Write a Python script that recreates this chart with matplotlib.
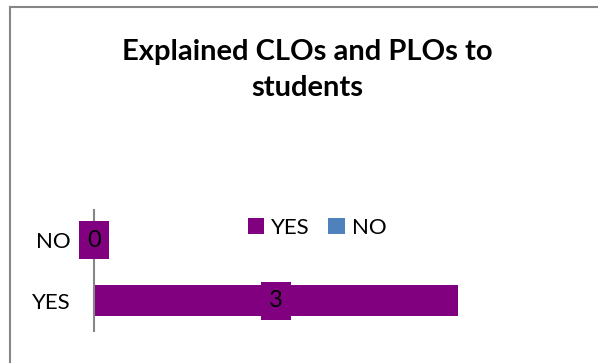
import matplotlib.pyplot as plt
from matplotlib.patches import Patch
from matplotlib.lines import Line2D

# data
categories = ["YES", "NO"]
values = [3, 0]
legend_labels = ["YES", "NO"]
title = "Explained CLOs and PLOs to\nstudents"

PURPLE = "#800080"
BLUE = "#4F81BD"
GRAY = "#868686"

plt.rcParams["font.family"] = ["Lato", "DejaVu Sans"]

W, H = 598, 363
fig = plt.figure(figsize=(W / 100, H / 100), dpi=100)

# plot area in pixels (left, top, right, bottom)
x0, y0, x1, y1 = 94, 210, 458, 331
ax = fig.add_axes([x0 / W, 1 - y1 / H, (x1 - x0) / W, (y1 - y0) / H])

pos = list(range(len(categories)))
ax.barh(pos, values, height=0.51, color=PURPLE)
ax.set_xlim(0, 3)
ax.set_ylim(-0.5, 1.5)
ax.set_yticks(pos)
ax.set_yticklabels(categories, fontsize=16)
ax.tick_params(axis="y", length=0, pad=17)
ax.set_xticks([])
for s in ["top", "right", "bottom"]:
    ax.spines[s].set_visible(False)
ax.spines["left"].set_color(GRAY)
ax.spines["left"].set_linewidth(1.5)

# data labels centred on bars
for p, v in zip(pos, values):
    ax.text(v / 2, p, str(v), ha="center", va="center", fontsize=17,
            bbox=dict(boxstyle="square,pad=0.35", facecolor=PURPLE, edgecolor="none"))

# legend
handles = [Patch(facecolor=PURPLE), Patch(facecolor=BLUE)]
fig.legend(handles, legend_labels, loc="center", bbox_to_anchor=(317 / W, 1 - 228 / H),
           ncol=2, frameon=False, fontsize=16, handlelength=0.75, handleheight=0.75,
           handletextpad=0.3, columnspacing=0.85)

# title
fig.text(307 / W, 1 - 70 / H, title, ha="center", va="center", fontsize=21,
         fontweight="bold", linespacing=1.45)

# chart border (top and left visible)
fig.add_artist(Line2D([10 / W, 1], [1 - 7 / H, 1 - 7 / H], color=GRAY, lw=1.5))
fig.add_artist(Line2D([10 / W, 10 / W], [0, 1 - 7 / H], color=GRAY, lw=1.5))

fig.savefig("out.png", dpi=100)
